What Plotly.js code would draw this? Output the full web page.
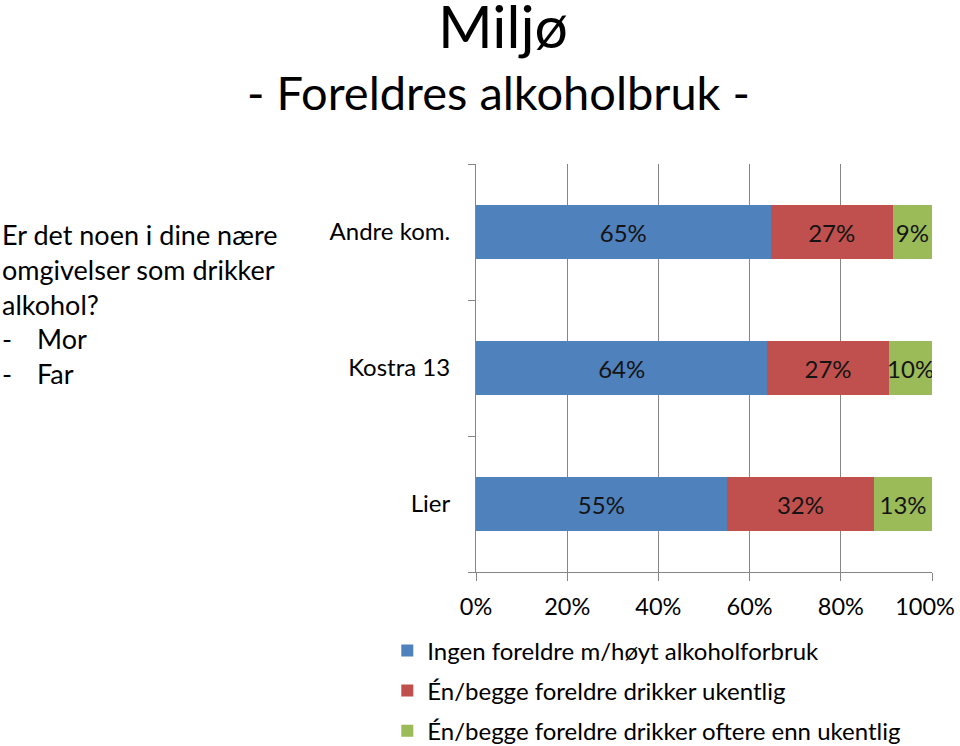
<!DOCTYPE html>
<html>
<head>
<meta charset="utf-8">
<script src="https://cdn.plot.ly/plotly-3.0.1.min.js"></script>
<style>html,body{margin:0;padding:0;background:#fff;}#chart{width:960px;height:746px;}</style>
</head>
<body>
<div id="chart"></div>
<script>
// Data (top-level small arrays)
const categories = ["Andre kom.", "Kostra 13", "Lier"];
const seriesNames = [
  "Ingen foreldre m/høyt alkoholforbruk",
  "Én/begge foreldre drikker ukentlig",
  "Én/begge foreldre drikker oftere enn ukentlig"
];
const ingenHoyt = [64.6, 63.9, 55.0];
const ukentlig = [26.8, 26.6, 32.3];
const oftere = [8.6, 9.6, 12.7];
const xTickVals = [0, 20, 40, 60, 80, 100];
const xTickText = ["0%", "20%", "40%", "60%", "80%", "100%"];
const titleText = "Miljø";
const subtitleText = "- Foreldres alkoholbruk -";
const questionLines = ["Er det noen i dine nære", "omgivelser som drikker", "alkohol?"];
const bulletLines = ["Mor", "Far"];

const colors = ["#4f81bd", "#c0504d", "#9bbb59"];
const FONT = "Lato, Carlito, 'Open Sans', sans-serif";
const allSeries = [ingenHoyt, ukentlig, oftere];

const traces = allSeries.map((vals, i) => ({
  type: "bar",
  orientation: "h",
  name: seriesNames[i],
  legendgroup: "g" + i,
  y: categories,
  x: vals,
  marker: {color: colors[i], line: {width: 0}},
  texttemplate: "%{x:.0f}%",
  textposition: "inside",
  insidetextanchor: "middle",
  textangle: 0,
  constraintext: "none",
  textfont: {family: FONT, size: 24, color: "#141414"},
  insidetextfont: {family: FONT, size: 24, color: "#141414"},
  hoverinfo: "skip"
}));
const lastTick = xTickText.length - 1;
// invisible helper trace so the secondary x axis (carrying the shifted "100%" label) is drawn
traces.push({
  type: "scatter", mode: "none", xaxis: "x2", yaxis: "y",
  x: [xTickVals[lastTick]], y: [categories[0]],
  showlegend: false, hoverinfo: "skip"
});

// plot area pixel geometry
const L = 475.7, R = 931.7, T = 163.7, B = 571.7;
const W = R - L, H = B - T;
const px = (x) => (x - L) / W;
const py = (y) => (B - y) / H;

const annotations = [];
annotations.push({text: titleText, xref: "paper", yref: "paper", x: px(503), y: py(31), xanchor: "center", yanchor: "middle",
  height: 60, valign: "bottom", showarrow: false, font: {family: FONT, size: 59, color: "#000"}});
annotations.push({text: subtitleText, xref: "paper", yref: "paper", x: px(498), y: py(92), xanchor: "center", yanchor: "middle", showarrow: false, font: {family: FONT, size: 47, color: "#000"}});
const qY = [234, 269, 304];
questionLines.forEach((t, i) => annotations.push({text: t, xref: "paper", yref: "paper", x: px(0), y: py(qY[i]), xanchor: "left", yanchor: "middle", showarrow: false, font: {family: FONT, size: 27, color: "#000"}}));
const bY = [338, 373];
bulletLines.forEach((t, i) => {
  annotations.push({text: "-", xref: "paper", yref: "paper", x: px(0), y: py(bY[i]), xanchor: "left", yanchor: "middle", showarrow: false, font: {family: FONT, size: 27, color: "#000"}});
  annotations.push({text: t, xref: "paper", yref: "paper", x: px(35), y: py(bY[i]), xanchor: "left", yanchor: "middle", showarrow: false, font: {family: FONT, size: 27, color: "#000"}});
});

const tickFont = {family: FONT, size: 23.5, color: "#000"};
const layout = {
  width: 960, height: 746,
  margin: {l: L, r: 960 - R, t: T, b: 746 - B, pad: 0, autoexpand: false},
  paper_bgcolor: "#fff", plot_bgcolor: "#fff",
  barmode: "stack",
  bargap: 0.6,
  showlegend: true,
  legend: {
    x: px(387), xanchor: "left", y: py(628), yanchor: "top",
    font: {family: FONT, size: 24, color: "#000"},
    traceorder: "grouped", tracegroupgap: 6,
    bgcolor: "rgba(0,0,0,0)", borderwidth: 0,
    itemwidth: 30
  },
  xaxis: {
    range: [0, 100], tickvals: xTickVals,
    ticktext: xTickText.map((t, i) => i === lastTick ? "" : t),
    showgrid: true, gridcolor: "#868686", gridwidth: 1,
    showline: true, linecolor: "#868686", linewidth: 1,
    ticks: "outside", ticklen: 8, tickcolor: "#868686",
    ticklabelstandoff: 6,
    tickfont: tickFont,
    zeroline: false, fixedrange: true
  },
  xaxis2: {
    overlaying: "x", anchor: "y", side: "bottom",
    range: [0, 100], tickvals: [xTickVals[lastTick]], ticktext: [xTickText[lastTick]],
    showgrid: false, showline: false, zeroline: false,
    ticks: "outside", ticklen: 8, tickcolor: "rgba(0,0,0,0)",
    ticklabelstandoff: 6, ticklabelshift: -7, ticklabeloverflow: "allow",
    tickfont: tickFont, fixedrange: true
  },
  yaxis: {
    type: "category", categoryorder: "array", categoryarray: categories.slice().reverse(),
    showline: true, linecolor: "#868686", linewidth: 1,
    ticks: "outside", ticklen: 7, tickcolor: "#868686", tickson: "boundaries",
    ticklabelstandoff: 20,
    tickfont: {family: FONT, size: 24, color: "#000"},
    showgrid: false, zeroline: false, fixedrange: true
  },
  annotations: annotations
};

Plotly.newPlot("chart", traces, layout, {displayModeBar: false, staticPlot: true});
</script>
</body>
</html>
